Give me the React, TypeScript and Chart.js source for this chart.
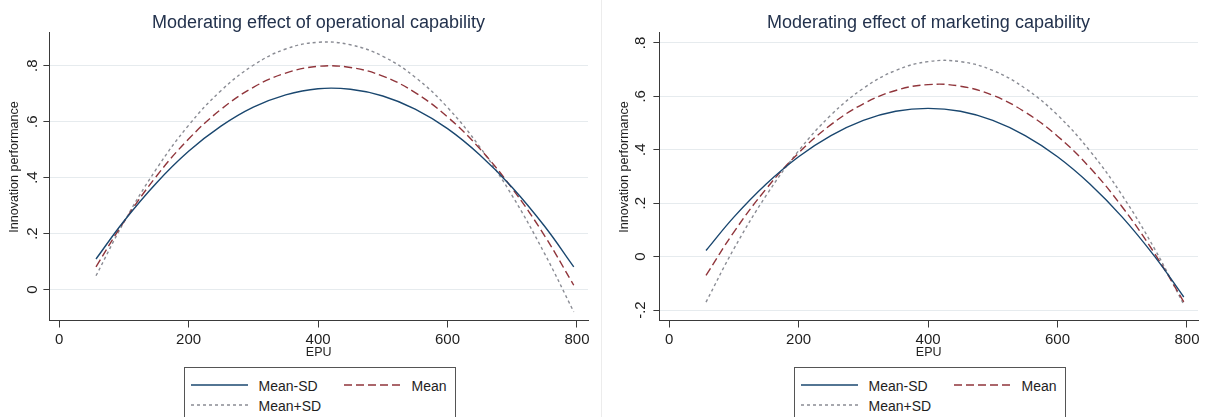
import React, { useEffect, useRef } from 'react';
import { Chart, registerables } from 'chart.js';

Chart.register(...registerables);

// ---------- data ----------
const epuPoints = [57, 100, 150, 200, 250, 300, 350, 400, 450, 500, 550, 600, 650, 700, 750, 795];
const seriesNames = ['Mean-SD', 'Mean', 'Mean+SD'];

const operationalMeanMinusSD = [0.109, 0.244, 0.38, 0.494, 0.584, 0.652, 0.696, 0.718, 0.716, 0.692, 0.645, 0.575, 0.481, 0.365, 0.226, 0.081];
const operationalMean = [0.081, 0.242, 0.404, 0.538, 0.644, 0.723, 0.774, 0.798, 0.794, 0.763, 0.704, 0.617, 0.503, 0.361, 0.192, 0.015];
const operationalMeanPlusSD = [0.049, 0.24, 0.43, 0.587, 0.711, 0.802, 0.86, 0.884, 0.875, 0.834, 0.759, 0.651, 0.509, 0.335, 0.128, -0.08];

const marketingMeanMinusSD = [0.023, 0.148, 0.272, 0.374, 0.453, 0.51, 0.544, 0.555, 0.544, 0.51, 0.453, 0.374, 0.272, 0.148, 0.001, -0.151];
const marketingMean = [-0.07, 0.092, 0.254, 0.388, 0.494, 0.572, 0.622, 0.644, 0.638, 0.604, 0.541, 0.451, 0.333, 0.186, 0.012, -0.169];
const marketingMeanPlusSD = [-0.17, 0.029, 0.229, 0.396, 0.53, 0.63, 0.697, 0.73, 0.73, 0.697, 0.63, 0.53, 0.396, 0.229, 0.029, -0.179];

const xTickValues = [0, 200, 400, 600, 800];
const xTickLabels = ['0', '200', '400', '600', '800'];
const operationalYTickValues = [0, 0.2, 0.4, 0.6, 0.8];
const operationalYTickLabels = ['0', '.2', '.4', '.6', '.8'];
const marketingYTickValues = [-0.2, 0, 0.2, 0.4, 0.6, 0.8];
const marketingYTickLabels = ['-.2', '0', '.2', '.4', '.6', '.8'];

const panelTitles = ['Moderating effect of operational capability', 'Moderating effect of marketing capability'];
const xAxisTitle = 'EPU';
const yAxisTitle = 'Innovation performance';

// ---------- styles ----------
const FONT = '"Liberation Sans", Arial, Helvetica, sans-serif';
const lineStyles = [
  { color: '#1a476f', dash: [] as number[] },
  { color: '#90353b', dash: [8, 4] },
  { color: '#8a8c94', dash: [3, 3] },
];
const AXIS_COLOR = '#3a3a3a';
const GRID_COLOR = '#e6ebee';
const TEXT_COLOR = '#1e1e1e';
const TITLE_COLOR = '#23324d';

const CANVAS_W = 637;
const CANVAS_H = 417;

// draws the rotated y-axis title slightly above the axis centre, as in the source
const yTitlePlugin = {
  id: 'yTitleShifted',
  afterDraw(chart: any, _args: any, opts: any) {
    const { ctx } = chart;
    ctx.save();
    ctx.translate(opts.x, opts.y);
    ctx.rotate(-Math.PI / 2);
    ctx.textAlign = 'center';
    ctx.textBaseline = 'middle';
    ctx.fillStyle = TEXT_COLOR;
    ctx.font = `12.5px ${FONT}`;
    ctx.fillText(opts.text, 0, 0);
    ctx.restore();
  },
};

type PanelProps = {
  left: number;
  title: string;
  series: number[][];
  yMin: number;
  yMax: number;
  yTicks: number[];
  yLabels: string[];
};

function Panel({ left, title, series, yMin, yMax, yTicks, yLabels }: PanelProps) {
  const ref = useRef<HTMLCanvasElement>(null);
  useEffect(() => {
    const chart = new Chart(ref.current as HTMLCanvasElement, {
      type: 'line',
      data: {
        datasets: series.map((vals, i) => ({
          label: seriesNames[i],
          data: epuPoints.map((x, j) => ({ x, y: vals[j] })),
          borderColor: lineStyles[i].color,
          borderDash: lineStyles[i].dash,
          borderWidth: 1.4,
          pointRadius: 0,
          fill: false,
          tension: 0.4,
        })),
      },
      plugins: [yTitlePlugin],
      options: {
        responsive: false,
        animation: false,
        devicePixelRatio: 1,
        events: [],
        layout: { padding: { top: 14.5, left: 0, right: 0, bottom: 56.8 } },
        plugins: {
          legend: { display: false },
          tooltip: { enabled: false },
          title: {
            display: true,
            text: title,
            color: TITLE_COLOR,
            font: { family: FONT, size: 18, weight: 'normal', lineHeight: 1 },
            padding: { top: 0, bottom: 0 },
          },
          yTitleShifted: { text: yAxisTitle, x: 15, y: 167 },
        },
        scales: {
          x: {
            type: 'linear',
            min: -15,
            max: 817,
            afterBuildTicks: (s: any) => {
              s.ticks = xTickValues.map((v) => ({ value: v }));
            },
            afterFit: (s: any) => {
              s.height = 39.7;
            },
            ticks: {
              autoSkip: false,
              maxRotation: 0,
              padding: 3,
              color: TEXT_COLOR,
              font: { family: FONT, size: 15 },
              callback: (v: any) => {
                const k = xTickValues.indexOf(Number(v));
                return k >= 0 ? xTickLabels[k] : '';
              },
            },
            grid: { drawOnChartArea: false, drawTicks: true, tickLength: 7, tickColor: AXIS_COLOR, tickWidth: 1 },
            border: { display: true, color: AXIS_COLOR, width: 1 },
            title: {
              display: true,
              text: xAxisTitle,
              color: TEXT_COLOR,
              font: { family: FONT, size: 12.5, lineHeight: 1.2 },
              padding: { top: 0, bottom: 0 },
            },
          },
          y: {
            type: 'linear',
            position: 'left',
            min: yMin,
            max: yMax,
            afterBuildTicks: (s: any) => {
              s.ticks = yTicks.map((v) => ({ value: v }));
            },
            afterFit: (s: any) => {
              s.width = 49.4;
            },
            ticks: {
              autoSkip: false,
              minRotation: 90,
              maxRotation: 90,
              crossAlign: 'center',
              padding: 4,
              color: TEXT_COLOR,
              font: { family: FONT, size: 15 },
              callback: (v: any) => {
                const k = yTicks.findIndex((t) => Math.abs(t - Number(v)) < 1e-9);
                return k >= 0 ? yLabels[k] : '';
              },
            },
            grid: { color: GRID_COLOR, lineWidth: 1, drawTicks: true, tickLength: 6, tickColor: AXIS_COLOR, tickWidth: 1 },
            border: { display: true, color: AXIS_COLOR, width: 1 },
            title: { display: false },
          },
          spacer: {
            type: 'linear',
            position: 'right',
            display: true,
            ticks: { display: false },
            grid: { display: false, drawTicks: false },
            border: { display: false },
            afterFit: (s: any) => {
              s.width = 49;
            },
          },
        },
      } as any,
    });
    return () => chart.destroy();
  }, []);
  return (
    <canvas
      ref={ref}
      width={CANVAS_W}
      height={CANVAS_H}
      style={{ position: 'absolute', left, top: 0, width: CANVAS_W, height: CANVAS_H }}
    />
  );
}

function LegendSample({ i }: { i: number }) {
  const st = lineStyles[i];
  return (
    <svg width={57} height={6} style={{ display: 'block' }}>
      <line
        x1={0}
        y1={3}
        x2={57}
        y2={3}
        stroke={st.color}
        strokeWidth={1.3}
        strokeDasharray={st.dash.length ? st.dash.join(' ') : undefined}
      />
    </svg>
  );
}

function Legend({ left }: { left: number }) {
  const slots = [
    { line: 7, text: 75, row: 18.5 },
    { line: 160, text: 228, row: 18.5 },
    { line: 7, text: 75, row: 38.5 },
  ];
  return (
    <div
      style={{
        position: 'absolute',
        left: left + 183.5,
        top: 366.5,
        width: 272,
        height: 62,
        border: '1px solid #555',
        boxSizing: 'border-box',
        background: '#fff',
      }}
    >
      {seriesNames.map((name, i) => (
        <React.Fragment key={name}>
          <div style={{ position: 'absolute', left: slots[i].line - 1, top: slots[i].row - 4 }}>
            <LegendSample i={i} />
          </div>
          <div
            style={{
              position: 'absolute',
              left: slots[i].text - 1,
              top: slots[i].row - 9,
              height: 18,
              lineHeight: '18px',
              fontFamily: FONT,
              fontSize: 14,
              color: TEXT_COLOR,
              whiteSpace: 'nowrap',
            }}
          >
            {name}
          </div>
        </React.Fragment>
      ))}
    </div>
  );
}

export default function App() {
  return (
    <div
      style={{
        position: 'fixed',
        left: 0,
        top: 0,
        width: 1211,
        height: 417,
        overflow: 'hidden',
        background: '#fff',
      }}
    >
      <Panel
        left={0}
        title={panelTitles[0]}
        series={[operationalMeanMinusSD, operationalMean, operationalMeanPlusSD]}
        yMin={-0.111}
        yMax={0.919}
        yTicks={operationalYTickValues}
        yLabels={operationalYTickLabels}
      />
      <Panel
        left={610}
        title={panelTitles[1]}
        series={[marketingMeanMinusSD, marketingMean, marketingMeanPlusSD]}
        yMin={-0.239}
        yMax={0.839}
        yTicks={marketingYTickValues}
        yLabels={marketingYTickLabels}
      />
      <div style={{ position: 'absolute', left: 601, top: 0, width: 1, height: 417, background: '#ececec' }} />
      <Legend left={0} />
      <Legend left={610} />
    </div>
  );
}
